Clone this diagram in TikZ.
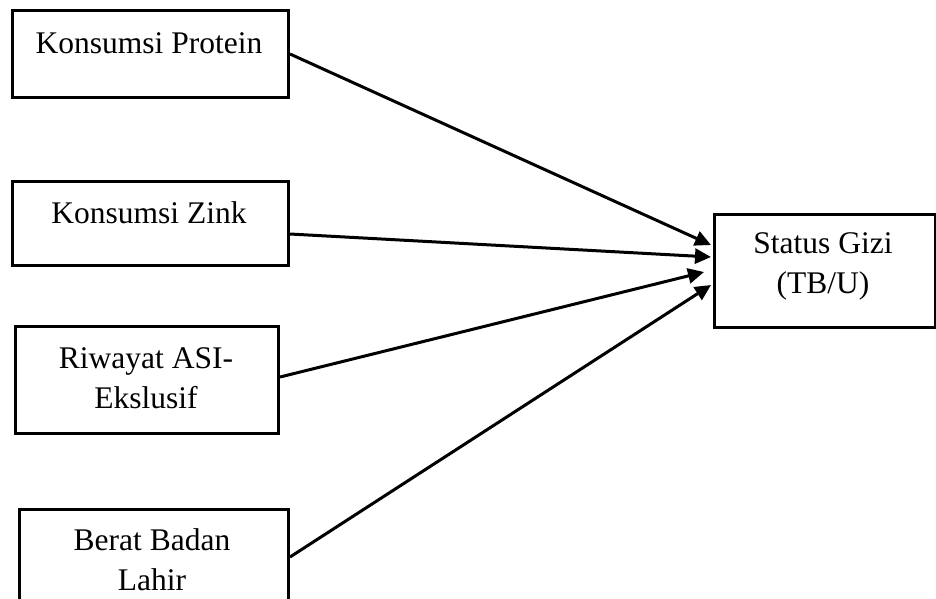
\documentclass[tikz,border=0pt]{standalone}
\usepackage{fontspec}
\setmainfont{Liberation Serif}
\usetikzlibrary{arrows.meta}
\begin{document}
\begin{tikzpicture}[x=1pt,y=-1pt,
  box/.style={draw=black,line width=3pt,anchor=north west,inner sep=0pt},
  txt/.style={font=\fontsize{31.5}{40}\selectfont,align=center,inner sep=0pt},
  arr/.style={line width=3pt,-{Triangle[length=16pt,width=15pt]}}]
\useasboundingbox (0,0) rectangle (936,598);
\clip (0,0) rectangle (936,598);
\node[box,minimum width=276pt,minimum height=87pt] (p) at (11,9) {};
\node[txt] at (149,43) {Konsumsi Protein};
\node[box,minimum width=276pt,minimum height=84pt] (z) at (11,180) {};
\node[txt] at (149,213) {Konsumsi Zink};
\node[box,minimum width=263pt,minimum height=107pt] (a) at (14,325) {};
\node[txt] at (146,378) {Riwayat ASI-\\Ekslusif};
\node[box,minimum width=269pt,minimum height=100pt] (b) at (18,508) {};
\node[txt] at (152,560) {Berat Badan\\Lahir};
\node[box,minimum width=221pt,minimum height=113pt] (s) at (713,213) {};
\node[txt] at (823,266) {Status Gizi\\(TB/U)};
\coordinate (t1) at (711,245);
\coordinate (t2) at (711,257);
\coordinate (t3) at (704,272);
\coordinate (t4) at (711,285);
\draw[arr] (p.east) -- (t1);
\draw[arr] (z.east |- 0,234) -- (t2);
\draw[arr] (a.east |- 0,377) -- (t3);
\draw[arr] (b.east |- 0,557) -- (t4);
\end{tikzpicture}
\end{document}
